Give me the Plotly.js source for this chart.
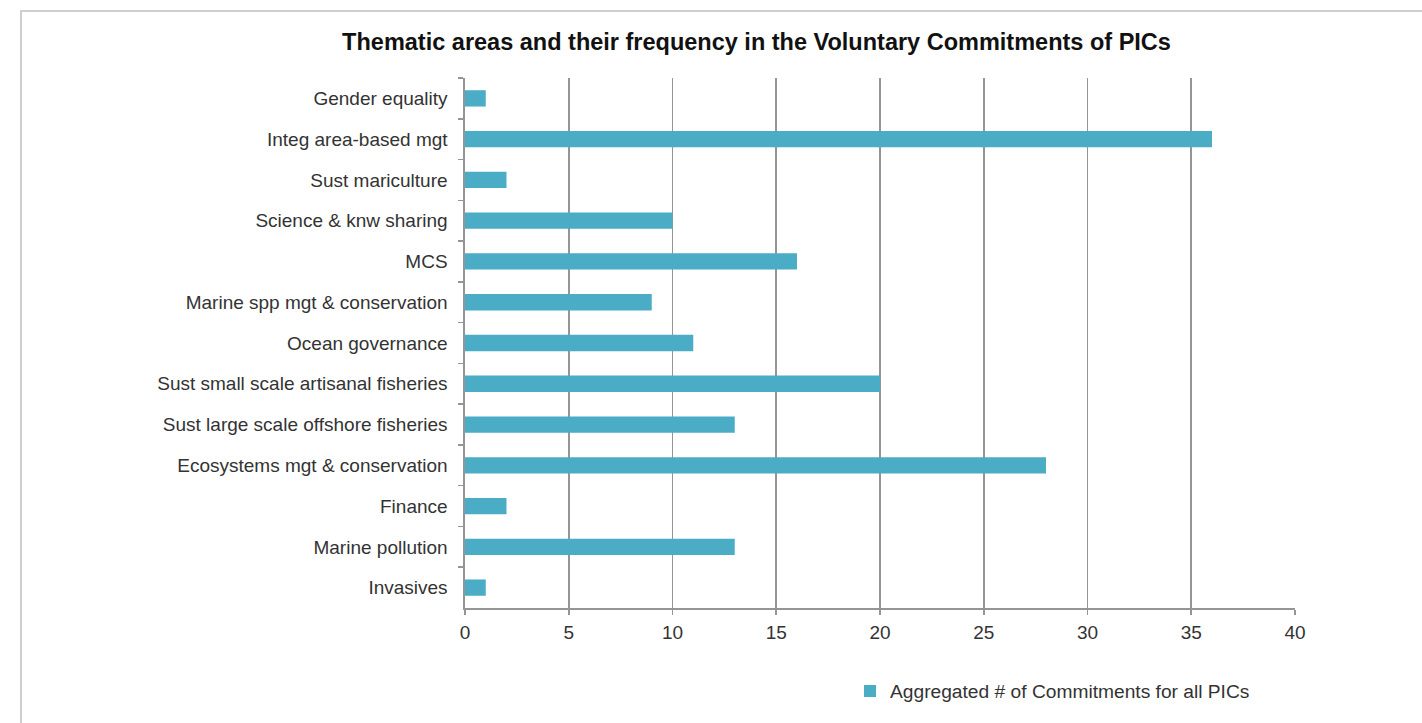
<!DOCTYPE html>
<html>
<head>
<meta charset="utf-8">
<script src="https://cdn.plot.ly/plotly-3.0.1.min.js"></script>
<style>
  html, body { margin: 0; padding: 0; background: #ffffff; }
  #chart { position: absolute; left: 0; top: 0; width: 1422px; height: 723px; }
  #frame { position: absolute; left: 20px; top: 10px; width: 1420px; height: 730px;
           border-left: 2px solid #cfcfcf; border-top: 2px solid #cfcfcf; pointer-events: none; }
</style>
</head>
<body>
<div id="chart"></div>
<div id="frame"></div>
<script>
const categories = [
  "Gender equality",
  "Integ area-based mgt",
  "Sust mariculture",
  "Science & knw sharing",
  "MCS",
  "Marine spp mgt & conservation",
  "Ocean governance",
  "Sust small scale artisanal fisheries",
  "Sust large scale offshore fisheries",
  "Ecosystems mgt & conservation",
  "Finance",
  "Marine pollution",
  "Invasives"
];
const commitments = [1, 36, 2, 10, 16, 9, 11, 20, 13, 28, 2, 13, 1];
const seriesName = "Aggregated # of Commitments for all PICs";
const xTicks = [0, 5, 10, 15, 20, 25, 30, 35, 40];

const trace = {
  type: "bar",
  orientation: "h",
  y: categories,
  x: commitments,
  name: seriesName,
  width: 0.4,
  marker: { color: "#4bacc6" },
  showlegend: true,
  hoverinfo: "x+y"
};

const layout = {
  width: 1422,
  height: 723,
  paper_bgcolor: "#ffffff",
  plot_bgcolor: "#ffffff",
  margin: { l: 465, r: 127, t: 78, b: 115, pad: 0 },
  font: { family: "Liberation Sans, Arial, sans-serif", size: 19, color: "#333333" },
  title: {
    text: "Thematic areas and their frequency in the Voluntary Commitments of PICs",
    font: { family: "Liberation Sans, Arial, sans-serif", size: 23.5, color: "#111111", weight: "bold" },
    xref: "container", x: 0.532, xanchor: "center",
    yref: "container", y: 1 - 42 / 723, yanchor: "middle"
  },
  xaxis: {
    range: [0, 40],
    tickvals: xTicks,
    ticktext: xTicks.map(String),
    showgrid: true,
    gridcolor: "#959595",
    gridwidth: 1.6,
    zeroline: false,
    showline: true,
    linecolor: "#959595",
    linewidth: 1.6,
    ticks: "outside",
    ticklen: 5,
    tickcolor: "#959595",
    tickwidth: 1.6,
    ticklabelstandoff: 2,
    tickfont: { size: 19, color: "#333333" },
    fixedrange: true
  },
  yaxis: {
    type: "category",
    autorange: "reversed",
    showgrid: false,
    zeroline: false,
    showline: true,
    linecolor: "#959595",
    linewidth: 1.6,
    ticks: "outside",
    tickson: "boundaries",
    ticklen: 5,
    tickcolor: "#959595",
    tickwidth: 1.6,
    ticklabelstandoff: 12,
    tickfont: { size: 19, color: "#333333" },
    fixedrange: true
  },
  legend: {
    orientation: "h",
    x: (850 - 465) / 830, xanchor: "left",
    y: -83 / 530, yanchor: "middle",
    font: { size: 19.2, color: "#333333" },
    bgcolor: "rgba(0,0,0,0)",
    itemwidth: 30
  },
  bargap: 0.6
};

Plotly.newPlot("chart", [trace], layout, { displayModeBar: false, staticPlot: true });
</script>
</body>
</html>
